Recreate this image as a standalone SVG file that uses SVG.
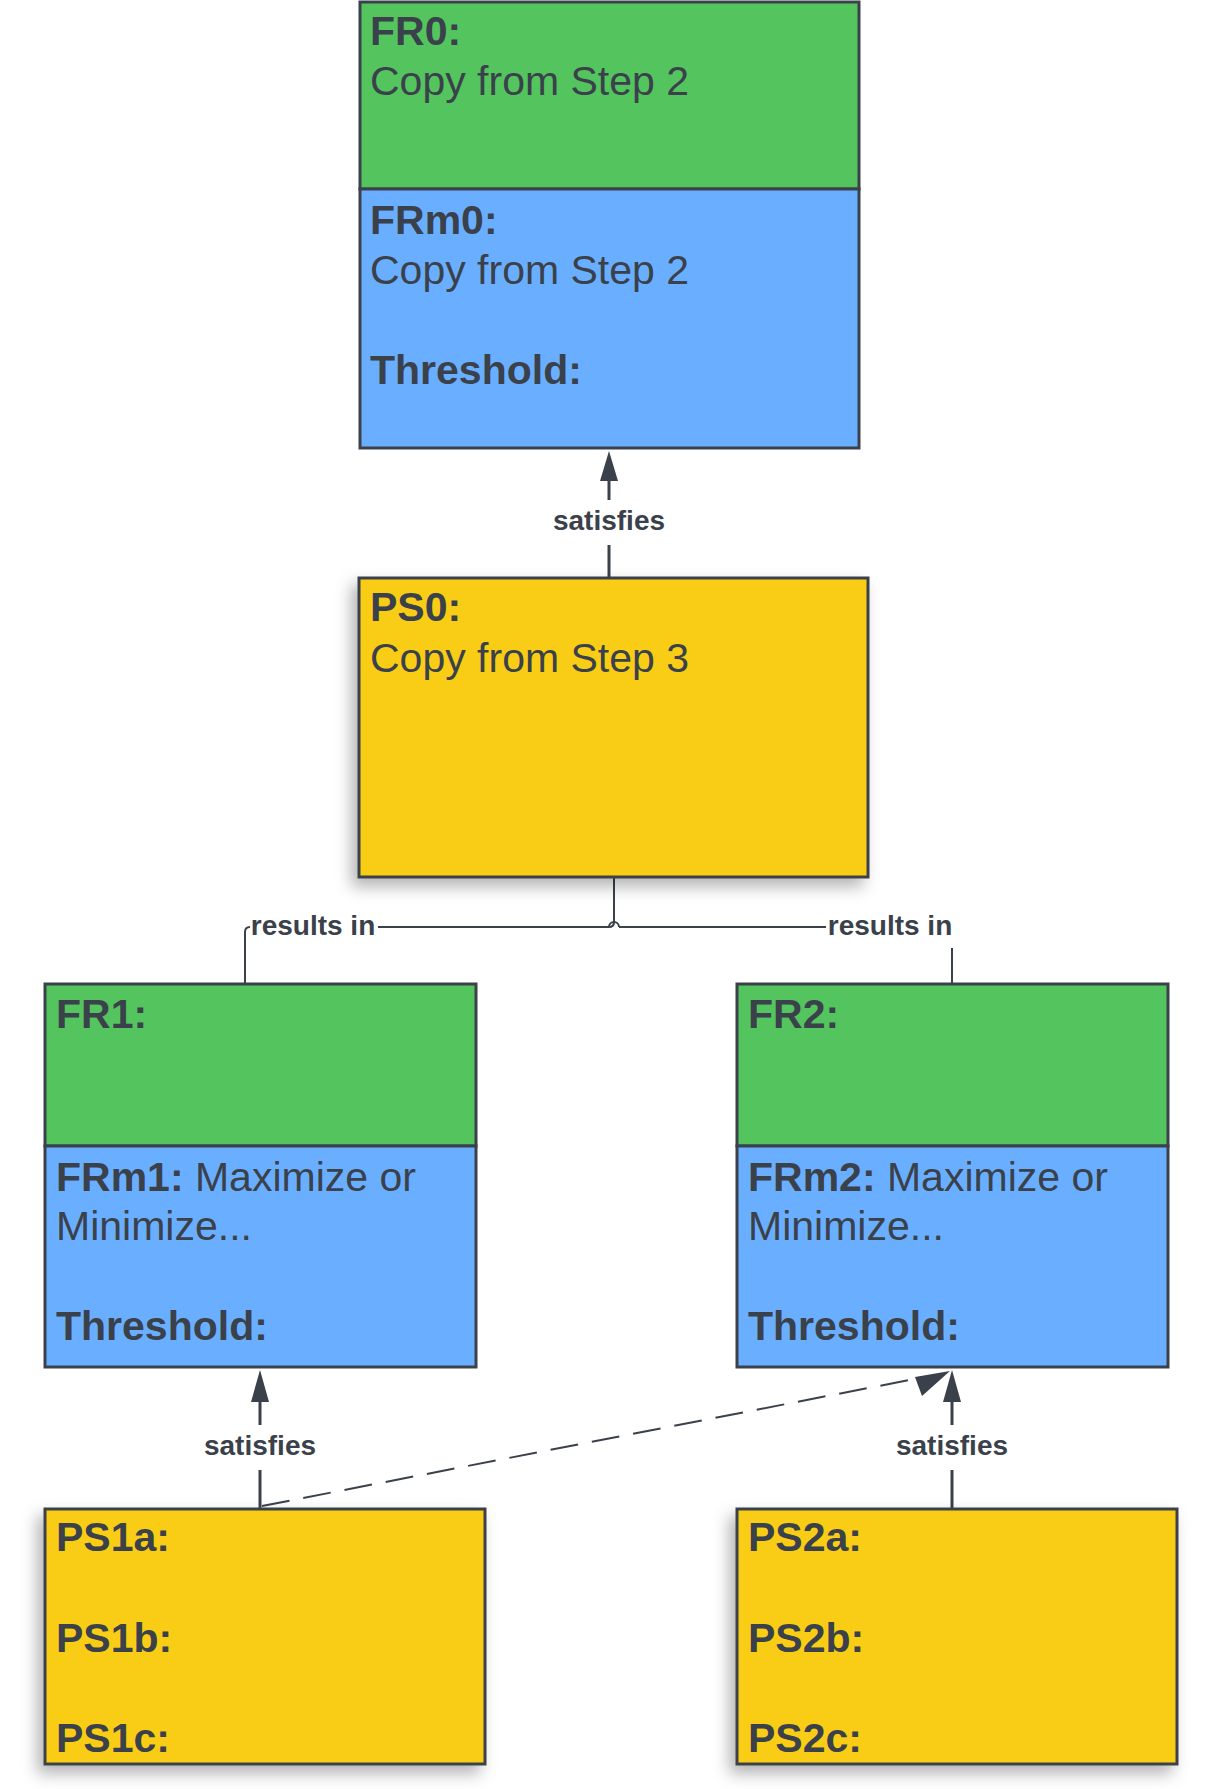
<svg xmlns="http://www.w3.org/2000/svg" width="1215" height="1789" viewBox="0 0 1215 1789">
<style>
.g{fill:#54c45e;stroke:#3a414a;stroke-width:3}
.b{fill:#6aafff;stroke:#3a414a;stroke-width:3}
.y{fill:#f9cd15;stroke:#3a414a;stroke-width:3}
text{font-family:"Liberation Sans",Arial,sans-serif;fill:#3a414a}
.t{font-size:41px}
.h{font-weight:bold}
.l{font-size:28px;font-weight:bold;text-anchor:middle}
.c{fill:none;stroke:#3a414a;stroke-width:2}
.a{fill:none;stroke:#3a414a;stroke-width:3}
</style>
<defs>
<filter id="sh" x="-20%" y="-20%" width="140%" height="140%"><feDropShadow dx="-6" dy="8" stdDeviation="8" flood-color="#000" flood-opacity="0.3"/></filter>
<marker id="ar" viewBox="0 0 10 10" refX="9" refY="5" markerWidth="5" markerHeight="5" orient="auto-start-reverse" markerUnits="userSpaceOnUse" style="overflow:visible"><path d="M0,-4 L24,5 L0,14 z" fill="#3a414a" transform="translate(-14,0)"/></marker>
</defs>
<rect width="1215" height="1789" fill="#fff"/>
<g id="connectors">
<path class="a" d="M609,578 V545"/><path class="a" d="M609,500 V470"/><path d="M609,451 L600,481 L618,481 z" fill="#3a414a"/>
<text class="l" x="609" y="530">satisfies</text>
<path class="c" d="M614,877 V922 Q614,927 609,927 H378"/>
<path class="c" d="M619,927 H826"/>
<path class="c" d="M609,927 a5,5 0 0 1 10,0"/>
<path class="c" d="M245,984 V932 Q245,927 250,927"/>
<text class="l" x="313" y="935">results in</text>
<text class="l" x="890" y="935">results in</text>
<path class="c" d="M952,948 V984"/>
<path class="a" d="M260,1509 V1470"/><path class="a" d="M260,1425 V1395"/><path d="M260,1370 L251,1402 L269,1402 z" fill="#3a414a"/>
<text class="l" x="260" y="1455">satisfies</text>
<path class="a" d="M952,1509 V1470"/><path class="a" d="M952,1425 V1395"/><path d="M952,1370 L943,1402 L961,1402 z" fill="#3a414a"/>
<text class="l" x="952" y="1455">satisfies</text>
<path class="c" d="M262,1506 L930,1376" stroke-dasharray="28,14"/>
<path d="M950,1371 L922,1396 L915,1377 z" fill="#3a414a"/>
</g>
<g id="FR0">
<rect class="g" x="360" y="2" width="499" height="187"/>
<rect class="b" x="360" y="189" width="499" height="259"/>
<text class="t h" x="370" y="45">FR0:</text>
<text class="t" x="370" y="95">Copy from Step 2</text>
<text class="t h" x="370" y="234">FRm0:</text>
<text class="t" x="370" y="284">Copy from Step 2</text>
<text class="t h" x="370" y="384">Threshold:</text>
</g>
<g id="PS0">
<rect class="y" x="359" y="578" width="509" height="299" filter="url(#sh)"/>
<text class="t h" x="370" y="621">PS0:</text>
<text class="t" x="370" y="672">Copy from Step 3</text>
</g>
<g id="FR1">
<rect class="g" x="45" y="984" width="431" height="162"/>
<rect class="b" x="45" y="1146" width="431" height="221"/>
<text class="t h" x="56" y="1028">FR1:</text>
<text class="t" x="56" y="1191"><tspan class="h">FRm1:</tspan> Maximize or</text>
<text class="t" x="56" y="1240">Minimize...</text>
<text class="t h" x="56" y="1340">Threshold:</text>
</g>
<g id="FR2">
<rect class="g" x="737" y="984" width="431" height="162"/>
<rect class="b" x="737" y="1146" width="431" height="221"/>
<text class="t h" x="748" y="1028">FR2:</text>
<text class="t" x="748" y="1191"><tspan class="h">FRm2:</tspan> Maximize or</text>
<text class="t" x="748" y="1240">Minimize...</text>
<text class="t h" x="748" y="1340">Threshold:</text>
</g>
<g id="PS1">
<rect class="y" x="45" y="1509" width="440" height="255" filter="url(#sh)"/>
<text class="t h" x="56" y="1551">PS1a:</text>
<text class="t h" x="56" y="1652">PS1b:</text>
<text class="t h" x="56" y="1752">PS1c:</text>
</g>
<g id="PS2">
<rect class="y" x="737" y="1509" width="440" height="255" filter="url(#sh)"/>
<text class="t h" x="748" y="1551">PS2a:</text>
<text class="t h" x="748" y="1652">PS2b:</text>
<text class="t h" x="748" y="1752">PS2c:</text>
</g>
</svg>
